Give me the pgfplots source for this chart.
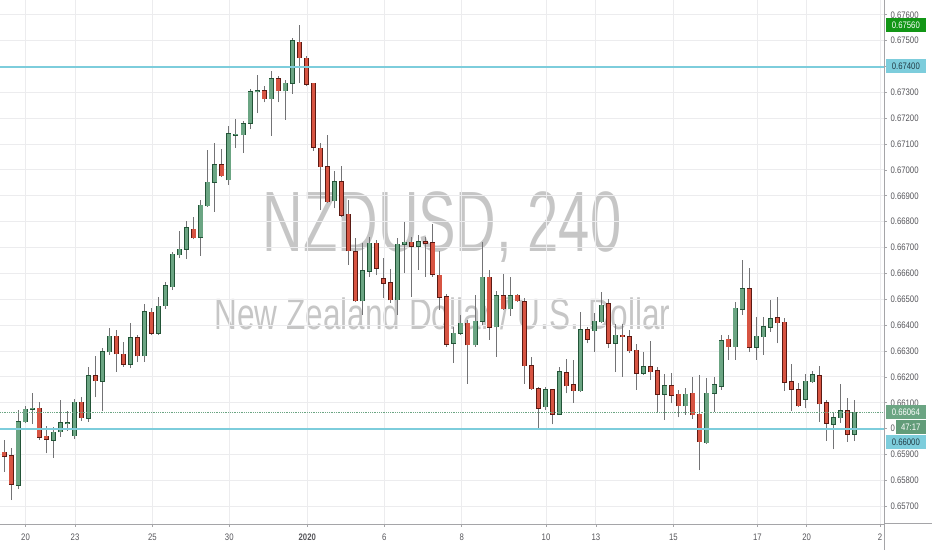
\documentclass[border=0pt]{standalone}
\usepackage{fontspec}
\setmainfont{Liberation Sans}[FakeStretch=0.82]
\newfontfamily\wmA{Liberation Sans}[FakeStretch=0.655]
\newfontfamily\wmB{Liberation Sans}[FakeStretch=0.72]
\usepackage{pgfplots}
\pgfplotsset{compat=1.18}
\usepackage{pgfplotstable}
\definecolor{upfill}{RGB}{107,165,131}
\definecolor{upedge}{RGB}{34,84,55}
\definecolor{dnfill}{RGB}{215,84,66}
\definecolor{dnedge}{RGB}{91,26,19}
\definecolor{wick}{RGB}{115,115,117}
\definecolor{gridgray}{RGB}{236,236,238}
\definecolor{axisgray}{RGB}{165,165,168}
\definecolor{labgray}{RGB}{85,85,90}
\definecolor{wmgray}{RGB}{198,198,198}
\definecolor{cyanline}{RGB}{125,205,220}
\definecolor{higreen}{RGB}{18,150,22}
\definecolor{curgreen}{RGB}{107,165,131}
\definecolor{cdgreen}{RGB}{98,156,121}
\definecolor{cyantext}{RGB}{35,60,70}

% up (green) candles: index open high low close
\pgfplotstableread{
i o h l c
3 0.65782 0.66072 0.65766 0.66027
4 0.66027 0.66088 0.66021 0.66075
5 0.66075 0.66139 0.66018 0.66079
8 0.65956 0.66008 0.65886 0.65986
9 0.65988 0.66111 0.65969 0.66022
10 0.66019 0.66070 0.65992 0.66023
11 0.65973 0.66115 0.65960 0.66102
13 0.66041 0.66240 0.66027 0.66205
15 0.66184 0.66311 0.66070 0.66298
16 0.66297 0.66388 0.66285 0.66358
19 0.66250 0.66408 0.66234 0.66352
21 0.66282 0.66482 0.66259 0.66451
23 0.66369 0.66508 0.66362 0.66474
24 0.66476 0.66568 0.66463 0.66553
25 0.66549 0.66684 0.66536 0.66674
26 0.66672 0.66766 0.66659 0.66694
27 0.66694 0.66804 0.66655 0.66776
29 0.66740 0.66884 0.66668 0.66864
30 0.66862 0.67078 0.66858 0.66953
31 0.66953 0.67104 0.66839 0.67020
33 0.66962 0.67171 0.66942 0.67140
34 0.67135 0.67198 0.67085 0.67138
35 0.67137 0.67190 0.67065 0.67178
36 0.67181 0.67312 0.67158 0.67303
37 0.67302 0.67368 0.67220 0.67307
39 0.67276 0.67384 0.67132 0.67352
41 0.67306 0.67348 0.67194 0.67336
42 0.67336 0.67510 0.67294 0.67499
48 0.66882 0.66998 0.66852 0.66955
52 0.66494 0.66717 0.66440 0.66610
53 0.66608 0.66742 0.66588 0.66717
57 0.66498 0.66736 0.66440 0.66713
58 0.66713 0.66800 0.66601 0.66721
60 0.66706 0.66749 0.66614 0.66722
65 0.66330 0.66394 0.66253 0.66369
66 0.66369 0.66440 0.66362 0.66408
68 0.66324 0.66517 0.66316 0.66416
69 0.66416 0.66723 0.66401 0.66585
71 0.66394 0.66534 0.66278 0.66513
73 0.66463 0.66585 0.66436 0.66513
78 0.66085 0.66160 0.66072 0.66150
80 0.66056 0.66240 0.66052 0.66220
83 0.66147 0.66452 0.66143 0.66382
85 0.66379 0.66446 0.66298 0.66416
86 0.66414 0.66530 0.66409 0.66478
88 0.66330 0.66404 0.66220 0.66362
92 0.66214 0.66298 0.66208 0.66240
95 0.66134 0.66210 0.66034 0.66165
98 0.66088 0.66156 0.66053 0.66134
101 0.65946 0.66197 0.65941 0.66137
102 0.66137 0.66201 0.66066 0.66169
103 0.66165 0.66362 0.66150 0.66340
105 0.66317 0.66491 0.66266 0.66466
106 0.66462 0.66652 0.66440 0.66540
108 0.66315 0.66433 0.66266 0.66358
109 0.66356 0.66433 0.66285 0.66394
110 0.66392 0.66498 0.66375 0.66425
115 0.66114 0.66210 0.66079 0.66184
116 0.66182 0.66224 0.66176 0.66208
119 0.66017 0.66066 0.65920 0.66043
120 0.66043 0.66172 0.66023 0.66070
122 0.65978 0.66111 0.65952 0.66064
}\up

% down (red) candles: index open high low close
\pgfplotstableread{
i o h l c
1 0.65909 0.65956 0.65834 0.65893
2 0.65896 0.65924 0.65724 0.65786
6 0.66079 0.66103 0.65956 0.65967
7 0.65971 0.66010 0.65905 0.65960
12 0.66102 0.66121 0.66031 0.66043
14 0.66205 0.66281 0.66121 0.66186
17 0.66358 0.66382 0.66220 0.66289
18 0.66288 0.66334 0.66240 0.66250
20 0.66352 0.66362 0.66257 0.66282
22 0.66450 0.66467 0.66362 0.66369
28 0.66771 0.66817 0.66732 0.66739
32 0.67020 0.67080 0.66974 0.66977
38 0.67307 0.67325 0.67261 0.67276
40 0.67352 0.67364 0.67261 0.67306
43 0.67494 0.67560 0.67336 0.67434
44 0.67432 0.67439 0.67323 0.67332
45 0.67336 0.67338 0.67075 0.67088
46 0.67084 0.67104 0.66846 0.67013
47 0.67013 0.67136 0.66872 0.66878
49 0.66955 0.67017 0.66820 0.66826
50 0.66829 0.66884 0.66633 0.66687
51 0.66684 0.66736 0.66491 0.66494
54 0.66717 0.66730 0.66594 0.66620
55 0.66579 0.66659 0.66504 0.66562
56 0.66565 0.66616 0.66487 0.66498
59 0.66721 0.66742 0.66510 0.66706
61 0.66723 0.66742 0.66588 0.66717
62 0.66719 0.66792 0.66588 0.66598
63 0.66594 0.66687 0.66459 0.66508
64 0.66510 0.66521 0.66317 0.66326
67 0.66408 0.66420 0.66173 0.66324
70 0.66585 0.66614 0.66343 0.66392
72 0.66513 0.66598 0.66459 0.66463
74 0.66516 0.66520 0.66490 0.66494
75 0.66491 0.66504 0.66173 0.66244
76 0.66244 0.66278 0.66150 0.66155
77 0.66155 0.66160 0.65999 0.66079
79 0.66150 0.66152 0.66017 0.66056
81 0.66217 0.66268 0.66137 0.66166
82 0.66169 0.66266 0.66101 0.66147
84 0.66382 0.66394 0.66330 0.66346
87 0.66482 0.66500 0.66311 0.66330
89 0.66362 0.66404 0.66201 0.66356
90 0.66356 0.66382 0.66292 0.66302
91 0.66304 0.66326 0.66150 0.66214
93 0.66240 0.66340 0.66188 0.66220
94 0.66224 0.66240 0.66066 0.66134
96 0.66165 0.66214 0.66098 0.66130
97 0.66134 0.66150 0.66044 0.66088
99 0.66137 0.66201 0.66038 0.66053
100 0.66056 0.66208 0.65840 0.65950
104 0.66346 0.66362 0.66266 0.66317
107 0.66540 0.66620 0.66298 0.66315
111 0.66429 0.66508 0.66330 0.66410
112 0.66411 0.66429 0.66147 0.66179
113 0.66182 0.66249 0.66070 0.66152
114 0.66150 0.66176 0.66085 0.66088
117 0.66204 0.66244 0.66027 0.66096
118 0.66101 0.66111 0.65954 0.66021
121 0.66070 0.66118 0.65950 0.65978
}\down

\begin{document}
\begin{tikzpicture}
\useasboundingbox (0,0) rectangle (932bp,550bp);
% watermark
\node[anchor=base, text=wmgray, font=\wmA\fontsize{86}{86}\selectfont, inner sep=0pt] at (442bp,298.3bp) {NZDUSD, 240};
\node[anchor=base, text=wmgray, font=\wmB\fontsize{44}{44}\selectfont, inner sep=0pt] at (442.5bp,220bp) {New Zealand Dollar / U.S. Dollar};
\begin{axis}[
  at={(0bp,26bp)}, anchor=south west, scale only axis,
  width=884bp, height=524bp,
  xmin=0.431, xmax=126.18, ymin=0.656316, ymax=0.676571,
  axis x line*=bottom, axis y line*=right,
  axis line style={-, draw=axisgray, line width=1bp},
  xtick={4.06,11.10,22.10,33.05,44.14,55.10,66.11,78.10,85.21,96.21,108.16,115.18,125.61},
  xticklabels={20,23,25,30,\textbf{2020},6,8,10,13,15,17,20,2},
  ytick={0.657,0.658,0.659,0.661,0.662,0.663,0.664,0.665,0.666,0.667,0.668,0.669,0.670,0.671,0.672,0.673,0.674,0.675,0.676},
  extra y ticks={0.660}, extra y tick labels={0},
  extra y tick style={grid=major},
  grid=major, major grid style={draw=gridgray, line width=1bp},
  tick align=outside, major tick length=3bp,
  tick style={draw=axisgray, line width=0.8bp},
  scaled y ticks=false,
  /pgf/number format/assume math mode=true,
  y tick label style={/pgf/number format/.cd, fixed, fixed zerofill, precision=5, /tikz/.cd,
     font=\fontsize{9.5}{10}\selectfont, text=labgray},
  x tick label style={font=\fontsize{9.5}{10}\selectfont, text=labgray, yshift=-3bp},
]
% wicks
\addplot[draw=none, mark=none, forget plot, error bars/.cd, y dir=plus, y explicit, error mark=none,
  error bar style={draw=wick, line width=1bp}]
  table[x=i, y=l, y error plus expr=\thisrow{h}-\thisrow{l}] {\up};
\addplot[draw=none, mark=none, forget plot, error bars/.cd, y dir=plus, y explicit, error mark=none,
  error bar style={draw=wick, line width=1bp}]
  table[x=i, y=l, y error plus expr=\thisrow{h}-\thisrow{l}] {\down};
% bodies: outline
\addplot[draw=none, mark=none, forget plot, error bars/.cd, y dir=plus, y explicit, error mark=none,
  error bar style={draw=upedge, line width=5bp}]
  table[x=i, y expr=\thisrow{o}-0.00002, y error plus expr=\thisrow{c}-\thisrow{o}+0.00004] {\up};
\addplot[draw=none, mark=none, forget plot, error bars/.cd, y dir=plus, y explicit, error mark=none,
  error bar style={draw=dnedge, line width=5bp}]
  table[x=i, y expr=\thisrow{c}-0.00002, y error plus expr=\thisrow{o}-\thisrow{c}+0.00004] {\down};
% bodies: fill
\addplot[draw=none, mark=none, forget plot, error bars/.cd, y dir=plus, y explicit, error mark=none,
  error bar style={draw=upfill, line width=3.4bp}]
  table[x=i, y=o, y error plus expr=\thisrow{c}-\thisrow{o}] {\up};
\addplot[draw=none, mark=none, forget plot, error bars/.cd, y dir=plus, y explicit, error mark=none,
  error bar style={draw=dnfill, line width=3.4bp}]
  table[x=i, y=c, y error plus expr=\thisrow{o}-\thisrow{c}] {\down};
% horizontal lines
\addplot[curgreen, densely dotted, line width=0.8bp, forget plot] coordinates {(0.431,0.66064) (126.18,0.66064)};
\addplot[cyanline, line width=2bp, forget plot] coordinates {(0.431,0.674) (126.18,0.674)};
\addplot[cyanline, line width=2bp, forget plot] coordinates {(0.431,0.660) (126.18,0.660)};
\end{axis}
% price-scale border extensions
\draw[axisgray, line width=1bp] (884bp,0bp) -- (884bp,26bp);
\draw[axisgray, line width=1bp] (884bp,26bp) -- (932bp,26bp);
% right-hand price labels
\node[fill=higreen, text=white, anchor=east, minimum width=40bp, minimum height=14bp, inner sep=0pt, font=\fontsize{9.5}{10}\selectfont] at (926bp,524.9bp) {0.67560};
\node[fill=cyanline, text=cyantext, anchor=east, minimum width=40bp, minimum height=14bp, inner sep=0pt, font=\fontsize{9.5}{10}\selectfont] at (926bp,483.5bp) {0.67400};
\node[fill=curgreen, text=white, anchor=east, minimum width=40bp, minimum height=14bp, inner sep=0pt, font=\fontsize{9.5}{10}\selectfont] at (926bp,137.9bp) {0.66064};
\node[fill=cdgreen, text=white, anchor=east, minimum width=30bp, minimum height=14bp, inner sep=0pt, font=\fontsize{9.5}{10}\selectfont] at (926bp,123bp) {47:17};
\node[fill=cyanline, text=cyantext, anchor=east, minimum width=40bp, minimum height=14bp, inner sep=0pt, font=\fontsize{9.5}{10}\selectfont] at (926bp,108bp) {0.66000};
\end{tikzpicture}
\end{document}
